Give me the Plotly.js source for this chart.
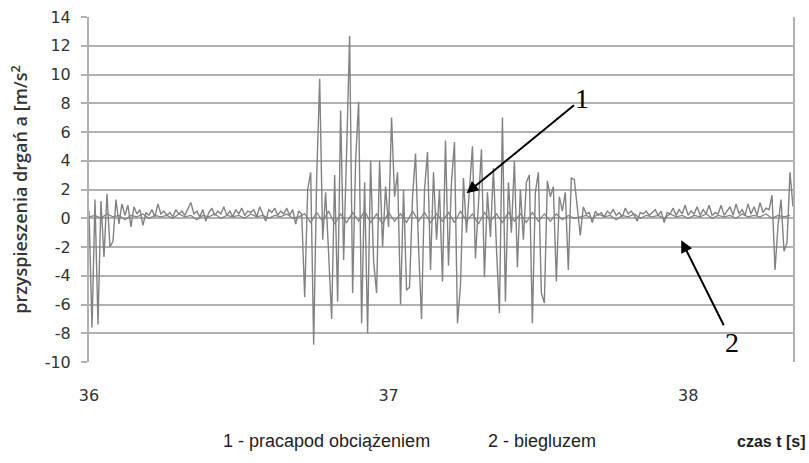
<!DOCTYPE html>
<html>
<head>
<meta charset="utf-8">
<script src="https://cdn.plot.ly/plotly-3.0.1.min.js"></script>
<style>html,body{margin:0;padding:0;background:#fff;}#chart{width:809px;height:463px;}</style>
</head>
<body>
<div id="chart"></div>
<script>
// time axis: start and sampling step (s)
const t0 = 36;
const dt1 = 0.01;
const dt2 = 0.02;

// series 1 - praca pod obciążeniem (acceleration, m/s^2)
const load = [
  0.5, -7.6, 1.3, -7.4, 1.2, -2.7, 1.7, -2.0, -1.6, 1.3,
  -0.4, 1.0, 0.2, 0.9, -0.6, 0.8, 0.3, 0.6, -0.5, 0.4,
  0.2, 0.6, 0.1, 1.0, 0.3, 0.5, 0.2, 0.4, 0.1, 0.6,
  0.3, 0.5, 0.2, 0.7, 1.1, 0.3, 0.5, 0.1, 0.6, -0.2,
  0.4, 0.7, 0.2, 0.5, 0.3, 0.8, 0.2, 0.5, 0.1, 0.6,
  0.3, 0.7, 0.2, 0.5, 0.4, 0.6, 0.1, 0.8, 0.3, -0.2,
  0.6, 0.4, 0.7, 0.2, 0.5, 0.3, 0.7, 0.2, 0.6, -0.4,
  0.5, 0.3, -5.5, 2.0, 3.2, -8.8, 2.8, 9.7, -1.5, 1.8,
  -2.5, -7.0, 3.0, -5.8, 7.5, -2.9, 4.7, 12.7, -5.2, 4.0,
  8.1, -7.3, 2.5, -8.0, 4.0, -3.0, -5.2, 4.0, -2.0, 2.2,
  -0.6, 7.0, 1.5, 3.2, -6.0, 2.0, -5.0, -4.8, 1.5, 4.5,
  -2.0, -7.0, 2.0, 4.6, -3.6, 3.2, -1.5, 2.0, -4.4, 5.4,
  -3.3, 2.5, 5.3, -7.3, -4.7, 2.8, -1.0, 2.0, 5.0, -2.8,
  1.5, 4.8, -4.1, 1.8, -1.3, 3.5, -2.0, -6.6, 7.0, -5.8,
  2.5, -1.0, 4.0, -3.4, 2.0, -1.5, 2.5, 3.0, -7.3, 1.8,
  3.2, -5.2, -5.9, 2.6, 1.5, 2.2, -4.4, 1.5, 0.5, 1.8,
  -3.6, 2.8, 2.7, 0.5, -1.2, 0.8, 0.3, 0.4, -0.3, 0.5,
  0.2, 0.4, 0.1, 0.5, 0.3, 0.6, 0.2, 0.4, 0.1, 0.7,
  0.3, 0.5, 0.2, -0.2, 0.4, 0.3, 0.5, 0.2, 0.4, 0.6,
  0.2, 0.5, -0.3, 0.4, 0.3, 0.7, 0.2, 0.6, 0.3, 0.9,
  0.2, 0.5, 0.3, 0.8, 0.2, 0.6, 0.3, 0.9, 0.2, 0.4,
  0.3, 0.9, 0.2, 0.5, 0.8, 0.2, 1.0, 0.3, 0.6, 0.2,
  1.0, 0.3, 0.8, 0.2, 1.1, 0.4, 0.7, 0.6, 1.6, -3.6,
  -0.5, 1.3, -2.3, -1.7, 3.2, 0.8
];

// series 2 - bieg luzem (acceleration, m/s^2)
const idle = [
  0.1, 0.2, 0.0, 0.3, 0.1, 0.2, -0.1, 0.2, 0.1, 0.3,
  0.0, 0.2, 0.1, 0.2, 0.0, 0.3, 0.1, 0.2, -0.1, 0.2,
  0.1, 0.3, 0.0, 0.2, 0.1, 0.2, 0.0, 0.3, 0.1, 0.2,
  0.0, 0.2, 0.1, 0.3, 0.0, 0.1, 0.3, -0.3, 0.4, -0.2,
  0.5, -0.4, 0.3, -0.3, 0.4, -0.2, 0.5, -0.3, 0.3, -0.4,
  0.4, -0.2, 0.3, -0.3, 0.5, -0.2, 0.4, -0.3, 0.3, -0.2,
  0.4, -0.3, 0.5, -0.2, 0.3, -0.4, 0.4, -0.2, 0.3, -0.3,
  0.4, -0.2, 0.3, -0.3, 0.4, -0.2, 0.3, -0.2, 0.3, -0.1,
  0.2, 0.0, 0.1, 0.2, 0.0, 0.3, 0.1, 0.2, -0.1, 0.2,
  0.1, 0.3, 0.0, 0.2, 0.1, 0.2, 0.0, 0.3, 0.1, 0.2,
  0.0, 0.2, 0.1, 0.3, 0.0, 0.2, 0.1, 0.2, 0.0, 0.3,
  0.1, 0.2, 0.1, 0.3, 0.0, 0.2, 0.1, 0.2
];

const xTicks = [36, 37, 38];
const yTicks = [-10, -8, -6, -4, -2, 0, 2, 4, 6, 8, 10, 12, 14];
const yTitle = 'przyspieszenia drgań a [m/s<sup>2</sup>';
const legend1 = '1 - pracapod obciążeniem';
const legend2 = '2 - biegluzem';
const xTitle = 'czas t [s]';

const lineColor = '#828282';
const gridColor = '#b1b1b1';

const traces = [
  {type: 'scatter', mode: 'lines', x0: t0, dx: dt2, y: idle,
   line: {color: lineColor, width: 1.3}, hoverinfo: 'skip'},
  {type: 'scatter', mode: 'lines', x0: t0, dx: dt1, y: load,
   line: {color: lineColor, width: 1.4}, hoverinfo: 'skip'}
];

const layout = {
  width: 809, height: 463,
  margin: {l: 89, r: 16, t: 17, b: 101, pad: 0},
  paper_bgcolor: '#ffffff', plot_bgcolor: '#ffffff',
  showlegend: false,
  font: {family: 'Open Sans, sans-serif', color: '#333333'},
  xaxis: {
    range: [36, 38.35], tickvals: xTicks, ticktext: xTicks.map(String),
    showgrid: false, zeroline: false, showline: false, ticks: '',
    ticklabelstandoff: 22,
    tickfont: {family: 'DejaVu Sans, sans-serif', size: 16, color: '#333333'}
  },
  yaxis: {
    range: [-10, 14], tickvals: yTicks, ticktext: yTicks.map(String),
    showgrid: true, gridcolor: gridColor, gridwidth: 2,
    zeroline: false, showline: true, linecolor: gridColor, linewidth: 2, mirror: true,
    ticks: 'outside', ticklen: 6, tickwidth: 2, tickcolor: gridColor,
    ticklabelstandoff: 7,
    tickfont: {family: 'DejaVu Sans, sans-serif', size: 16, color: '#333333'},
    title: {text: yTitle, standoff: 12,
            font: {family: 'Open Sans, sans-serif', size: 18, weight: 600, color: '#333333'}}
  },
  annotations: [
    {xref: 'x', yref: 'y', x: 37.26, y: 1.74, ax: 116, ay: -95,
     text: '1', showarrow: true, arrowhead: 2, arrowsize: 1.2, arrowwidth: 2, arrowcolor: '#000000',
     font: {family: 'Liberation Serif, serif', size: 28, color: '#000000'}},
    {xref: 'x', yref: 'y', x: 37.977, y: -1.53, ax: 51, ay: 102,
     text: '2', showarrow: true, arrowhead: 2, arrowsize: 1.2, arrowwidth: 2, arrowcolor: '#000000',
     font: {family: 'Liberation Serif, serif', size: 28, color: '#000000'}},
    {xref: 'paper', yref: 'paper', x: 0.338, y: -0.229, xanchor: 'center', yanchor: 'middle',
     text: legend1, showarrow: false,
     font: {family: 'Liberation Sans, sans-serif', size: 18, color: '#222222'}},
    {xref: 'paper', yref: 'paper', x: 0.643, y: -0.229, xanchor: 'center', yanchor: 'middle',
     text: legend2, showarrow: false,
     font: {family: 'Liberation Sans, sans-serif', size: 18, color: '#222222'}},
    {xref: 'paper', yref: 'paper', x: 0.969, y: -0.229, xanchor: 'center', yanchor: 'middle',
     text: xTitle, showarrow: false,
     font: {family: 'Liberation Sans, sans-serif', size: 16, weight: 600, color: '#222222'}}
  ]
};

Plotly.newPlot('chart', traces, layout, {staticPlot: true, displayModeBar: false});
</script>
</body>
</html>
